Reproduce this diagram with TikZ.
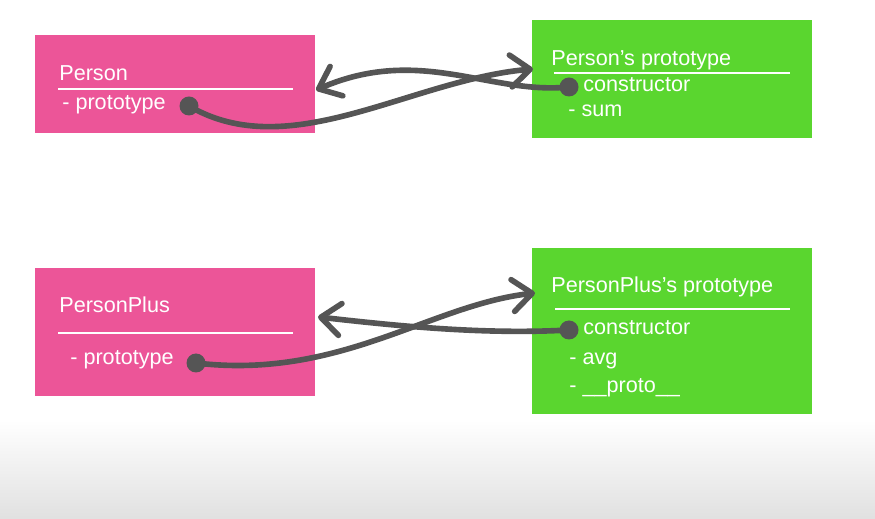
\documentclass[tikz,border=0pt]{standalone}
\usepackage{fontspec}
\setmainfont{Liberation Sans}
\usetikzlibrary{arrows.meta,positioning}
\definecolor{pinkbox}{HTML}{EC5598}
\definecolor{greenbox}{HTML}{5AD62F}
\definecolor{wire}{HTML}{555555}

\begin{document}
\begin{tikzpicture}[x=0.02cm, y=0.02cm,
 >={Straight Barb[length=3.9mm,width=6.4mm,round]},
 every node/.style={font=\fontsize{12.3}{14}\selectfont},
 cls/.style={fill=pinkbox,minimum width=5.6cm,anchor=north west,inner sep=0},
 proto/.style={fill=greenbox,minimum width=5.6cm,anchor=north west,inner sep=0},
 txt/.style={text=white,anchor=base west,inner sep=0},
 dot/.style={circle,fill=wire,minimum size=0.38cm,inner sep=0},
 link/.style={draw=wire,line width=3.2pt,line cap=round,->},
 divider/.style={draw=white,line width=1pt}]
 \useasboundingbox (0,0) rectangle (875,-519);
 \fill[white] (0,0) rectangle (875,-519);
 \shade[top color=white,bottom color=black!12] (0,-420) rectangle (875,-519);

 % classes and their prototypes
 \node[cls,minimum height=1.96cm] (person) at (35,-35) {};
 \node[proto,minimum height=2.36cm] (personproto) at (532,-20) {};
 \node[cls,minimum height=2.56cm] (plus) at (35,-268) {};
 \node[proto,minimum height=3.32cm] (plusproto) at (532,-248) {};

 % Person
 \node[txt] (personname) at (59,-81) {Person};
 \draw[divider] (58,-89) -- (293,-89);
 \node[txt] (personfield) at (62,-110) {- prototype};
 \node[dot] (personptr) at (189,-106) {};

 \node[txt] (ppname) at (551,-66) {Person’s prototype};
 \draw[divider] (554,-73) -- (790,-73);
 \node[dot] (ppctor) at (569,-87) {};
 \node[txt] (ppfield) at (583,-92) {constructor};
 \node[txt] (ppsum) at (568,-117) {- sum};

 % PersonPlus
 \node[txt] (plusname) at (59,-313) {PersonPlus};
 \draw[divider] (58,-333) -- (293,-333);
 \node[txt] (plusfield) at (70,-365) {- prototype};
 \node[dot] (plusptr) at (196,-363) {};

 \node[txt] (pxname) at (551,-293) {PersonPlus’s prototype};
 \draw[divider] (555,-309) -- (790,-309);
 \node[dot] (pxctor) at (569,-330) {};
 \node[txt] (pxfield) at (583,-335) {constructor};
 \node[txt] (pxavg) at (569,-365) {- avg};
 \node[txt] (pxproto) at (569,-393) {- \_\_proto\_\_};

 % arrow ends
 \coordinate (ppin) at (533,-69);
 \coordinate (personin) at (316,-90);
 \coordinate (pxin) at (535,-293);
 \coordinate (plusin) at (318,-317);

 \draw[link] (personptr.center) .. controls (290,-165) and (410,-80) .. (ppin);
 \draw[link] (ppctor.center) .. controls (490,-95) and (420,-45) .. (personin);
 \draw[link] (plusptr.center) .. controls (340,-380) and (430,-305) .. (pxin);
 \draw[link] (pxctor.center) .. controls (480,-335) and (390,-325) .. (plusin);
\end{tikzpicture}
\end{document}
